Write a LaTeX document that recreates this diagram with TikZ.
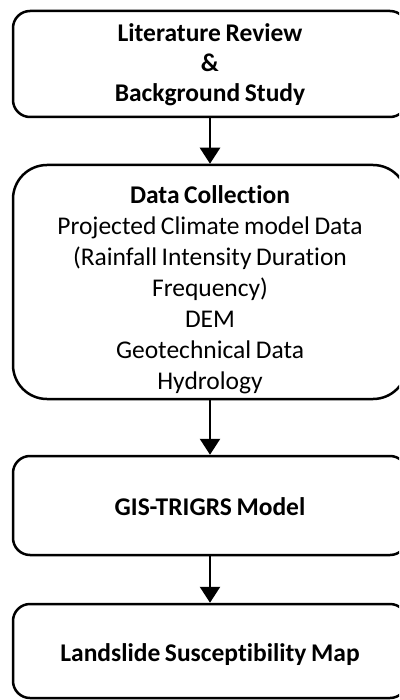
\documentclass[tikz,border=0pt]{standalone}
\usepackage{fontspec}
\setmainfont{Carlito}[Ligatures={NoCommon},WordSpace=0.8]
\usetikzlibrary{arrows.meta}
\begin{document}
\begin{tikzpicture}[x=1pt,y=-1pt,
  box/.style={draw=black,line width=2.5pt,rounded corners=17pt,minimum width=394pt,inner sep=0pt},
  txt/.style={align=center,inner sep=0pt,font=\fontsize{25.5}{30}\selectfont},
  conn/.style={line width=2.5pt,-{Triangle[width=20pt,length=16pt]}}]
\clip (0,0) rectangle (399,700);
\fill[white] (0,0) rectangle (399,700);
\node[box,minimum height=106pt] (lit) at (210,64) {};
\node[txt] (littxt) at (210,65)
  {\textbf{Literature Review}\\\textbf{\&}\\\textbf{Background Study}};
\node[box,minimum height=234pt,rounded corners=34pt] (data) at (210,282) {};
\node[txt,font=\fontsize{25.5}{31}\selectfont] (datatxt) at (210,289.5)
  {\textbf{Data Collection}\\Projected Climate model Data\\(Rainfall Intensity Duration\\Frequency)\\DEM\\Geotechnical Data\\Hydrology};
\node[box,minimum height=99pt] (gis) at (210,505.5) {};
\node[txt] (gistxt) at (210,507) {\textbf{GIS-TRIGRS Model}};
\node[box,minimum height=94pt] (map) at (210,651) {};
\node[txt] (maptxt) at (210,655) {\textbf{Landslide Susceptibility Map}};
\draw[conn] (lit) -- (data);
\draw[conn] (data) -- (gis);
\draw[conn] (gis) -- (map);
\end{tikzpicture}
\end{document}
